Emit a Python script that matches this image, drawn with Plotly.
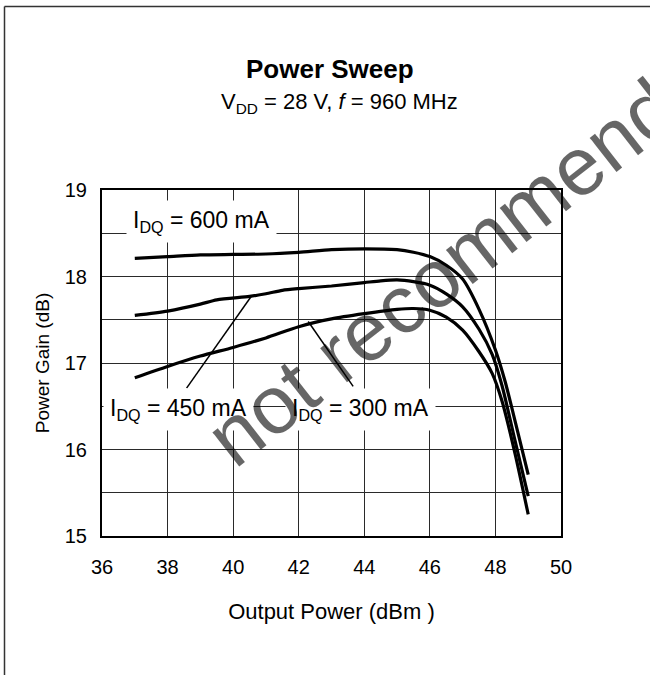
import plotly.graph_objects as go

# ---- data ----
x_600 = [37, 38, 39, 40, 41, 42, 43, 44, 45, 45.5, 46, 46.5, 47, 47.5, 48, 48.3, 48.65, 49]
g_600 = [18.21, 18.23, 18.25, 18.255, 18.26, 18.28, 18.31, 18.32, 18.31, 18.28, 18.23, 18.13, 17.97, 17.62, 17.15, 16.78, 16.25, 15.71]

x_450 = [37, 38, 39, 39.5, 40.5, 41, 41.5, 42, 43, 44, 44.5, 45, 45.5, 46, 46.5, 47, 47.5, 47.9, 48.2, 48.6, 49]
g_450 = [17.55, 17.60, 17.68, 17.73, 17.77, 17.80, 17.84, 17.86, 17.89, 17.93, 17.95, 17.96, 17.94, 17.90, 17.80, 17.65, 17.39, 17.10, 16.74, 16.10, 15.46]

x_300 = [37, 38, 39, 40, 41, 42, 43, 44, 45, 45.5, 46, 46.5, 47, 47.5, 47.9, 48.2, 48.6, 49]
g_300 = [16.83, 16.96, 17.08, 17.18, 17.29, 17.42, 17.51, 17.57, 17.62, 17.63, 17.61, 17.53, 17.38, 17.13, 16.88, 16.56, 15.95, 15.25]

leader_450_x = [40.56, 38.58]
leader_450_y = [17.775, 16.71]
leader_300_x = [42.29, 43.66]
leader_300_y = [17.48, 16.73]

x_ticks = [36, 38, 40, 42, 44, 46, 48, 50]
y_ticks = [15, 16, 17, 18, 19]

labels = ["I<sub>DQ</sub> = 600 mA", "I<sub>DQ</sub> = 450 mA", "I<sub>DQ</sub> = 300 mA"]
label_x = [39.02, 38.32, 43.87]
label_y = [18.64, 16.46, 16.46]

FONT = "Liberation Sans, Arial, sans-serif"

# plot area in pixels
L, R, T, B = 102, 561, 190, 536
W, H = R - L, B - T


def px(x):
    return (x - L) / W


def py(y):
    return (B - y) / H


fig = go.Figure()
for xs, ys in [(x_600, g_600), (x_450, g_450), (x_300, g_300)]:
    fig.add_trace(go.Scatter(x=xs, y=ys, mode="lines",
                             line=dict(color="black", width=3.2, shape="spline", smoothing=0.7),
                             showlegend=False, hoverinfo="skip"))
for xs, ys in [(leader_450_x, leader_450_y), (leader_300_x, leader_300_y)]:
    fig.add_trace(go.Scatter(x=xs, y=ys, mode="lines",
                             line=dict(color="black", width=1.5),
                             showlegend=False, hoverinfo="skip"))

for t, lx, ly in zip(labels, label_x, label_y):
    fig.add_annotation(x=lx, y=ly, xref="x", yref="y", text=t, showarrow=False,
                       xanchor="center", yanchor="middle",
                       bgcolor="white", borderpad=6,
                       font=dict(family=FONT, size=23, color="black"))

# watermark
fig.add_annotation(x=px(477), y=py(244), xref="paper", yref="paper", text="not recommended",
                   showarrow=False, textangle=-38, xanchor="center", yanchor="middle",
                   font=dict(family=FONT, size=82, color="rgba(0,0,0,0.6)"))

# titles
fig.add_annotation(x=px(330), y=py(69), xref="paper", yref="paper", text="<b>Power Sweep</b>",
                   showarrow=False, xanchor="center", yanchor="middle",
                   font=dict(family=FONT, size=26, color="black"))
fig.add_annotation(x=px(339), y=py(103), xref="paper", yref="paper",
                   text="V<sub>DD</sub> = 28 V, <i>f</i> = 960 MHz", showarrow=False,
                   xanchor="center", yanchor="middle",
                   font=dict(family=FONT, size=22, color="black"))

fig.update_layout(
    width=650, height=675,
    margin=dict(l=L, r=650 - R, t=T, b=675 - B),
    paper_bgcolor="white", plot_bgcolor="white",
    font=dict(family=FONT, size=20, color="black"),
    xaxis=dict(range=[36, 50], tickvals=x_ticks, ticktext=[str(v) for v in x_ticks],
               showgrid=True, gridcolor="#2a2a2a", gridwidth=1,
               showline=True, linecolor="black", linewidth=2, mirror=True,
               ticks="", ticklabelstandoff=12, zeroline=False,
               title=dict(text="Output Power (dBm )", font=dict(size=22), standoff=27)),
    yaxis=dict(range=[15, 19], tickvals=y_ticks, ticktext=[str(v) for v in y_ticks],
               showgrid=True, gridcolor="#2a2a2a", gridwidth=1,
               minor=dict(dtick=0.5, showgrid=True, gridcolor="#2a2a2a", gridwidth=1),
               showline=True, linecolor="black", linewidth=2, mirror=True,
               ticks="", ticklabelstandoff=9, zeroline=False,
               title=dict(text="Power Gain (dB)", font=dict(size=19), standoff=10)),
)

# outer frame (top and left edges)
fig.add_shape(type="line", xref="paper", yref="paper",
              x0=px(4.5), x1=px(650), y0=py(6.5), y1=py(6.5),
              line=dict(color="#333333", width=1.5))
fig.add_shape(type="line", xref="paper", yref="paper",
              x0=px(4.5), x1=px(4.5), y0=py(6.5), y1=py(675),
              line=dict(color="#333333", width=1.5))

fig.write_html("out.html", config={"displayModeBar": False},
               post_script="document.body.style.margin='0';document.body.style.overflow='hidden';")
